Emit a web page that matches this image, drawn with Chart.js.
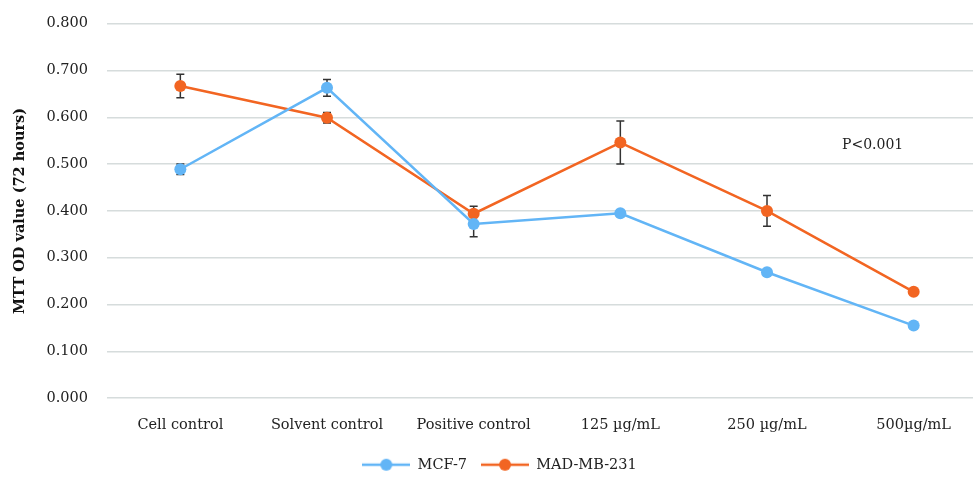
<!DOCTYPE html>
<html>
<head>
<meta charset="utf-8">
<script src="https://cdn.jsdelivr.net/npm/chart.js@4.4.0/dist/chart.umd.min.js"></script>
<style>
  html, body { margin: 0; padding: 0; background: #fff; overflow: hidden; }
  #wrap { width: 987px; height: 486px; margin-top: -4px; position: relative; }
</style>
</head>
<body>
<div id="wrap"><canvas id="mtt"></canvas></div>
<script>
// data block
const categories = ["Cell control", "Solvent control", "Positive control", "125 µg/mL", "250 µg/mL", "500µg/mL"];
const mcf7 = [0.489, 0.663, 0.372, 0.395, 0.269, 0.155];
const mcf7Err = [0.011, 0.018, 0.027, 0, 0.007, 0];
const mdamb = [0.667, 0.599, 0.394, 0.546, 0.400, 0.227];
const mdambErr = [0.025, 0.011, 0.016, 0.046, 0.033, 0];
const yTicks = [0, 0.1, 0.2, 0.3, 0.4, 0.5, 0.6, 0.7, 0.8];
const note = { x: 4.72, y: 0.540, text: "P<0.001" };

const FONT = "'DejaVu Serif', serif";
const BLUE = "#62b5f6";
const ORANGE = "#f26522";

// legend swatch: line with a dot
function swatch(color) {
  const c = document.createElement('canvas');
  c.width = 48; c.height = 14;
  const g = c.getContext('2d');
  g.strokeStyle = color; g.lineWidth = 2.5;
  g.beginPath(); g.moveTo(0, 7); g.lineTo(48, 7); g.stroke();
  g.fillStyle = color;
  g.beginPath(); g.arc(24, 7, 6, 0, Math.PI * 2); g.fill();
  return c;
}

// error bars + p-value text
const extras = {
  id: 'extras',
  beforeDatasetsDraw(chart) {
    const { ctx, scales: { x, y } } = chart;
    const errs = [mcf7Err, mdambErr];
    ctx.save();
    ctx.strokeStyle = "#333";
    ctx.lineWidth = 1.5;
    chart.data.datasets.forEach((ds, i) => {
      ds.data.forEach((v, j) => {
        const e = errs[i][j];
        if (!e) return;
        const px = x.getPixelForValue(j);
        const top = y.getPixelForValue(v + e);
        const bot = y.getPixelForValue(v - e);
        ctx.beginPath();
        ctx.moveTo(px, top); ctx.lineTo(px, bot);
        ctx.moveTo(px - 4, top); ctx.lineTo(px + 4, top);
        ctx.moveTo(px - 4, bot); ctx.lineTo(px + 4, bot);
        ctx.stroke();
      });
    });
    ctx.restore();
  },
  afterDraw(chart) {
    const { ctx, scales: { x, y } } = chart;
    ctx.save();
    ctx.font = "14px " + FONT;
    ctx.fillStyle = "#222";
    ctx.textAlign = "center";
    ctx.textBaseline = "middle";
    ctx.fillText(note.text, x.getPixelForValue(note.x), y.getPixelForValue(note.y));
    ctx.restore();
  }
};

const data = {
  labels: categories,
  datasets: [
    {
      label: "MCF-7",
      data: mcf7,
      borderColor: BLUE,
      backgroundColor: BLUE,
      borderWidth: 2.5,
      pointRadius: 6,
      pointHoverRadius: 6,
      pointBorderWidth: 0,
    },
    {
      label: "MAD-MB-231",
      data: mdamb,
      borderColor: ORANGE,
      backgroundColor: ORANGE,
      borderWidth: 2.5,
      pointRadius: 6,
      pointHoverRadius: 6,
      pointBorderWidth: 0,
    },
  ],
};

const config = {
  type: "line",
  data,
  options: {
    responsive: true,
    maintainAspectRatio: false,
    animation: false,
    layout: { autoPadding: false, padding: { top: 10, right: 0, left: 12, bottom: 0 } },
    scales: {
      x: {
        offset: true,
        grid: { display: false },
        border: { display: false },
        ticks: { color: "#222", padding: 10, maxRotation: 0, font: { family: FONT, size: 14.5 } },
      },
      y: {
        min: 0,
        max: 0.8,
        afterBuildTicks: s => { s.ticks = yTicks.map(v => ({ value: v })); },
        afterFit: s => { s.width = 95; },
        grid: { color: "#d6dcdc", lineWidth: 1.5, drawTicks: false },
        border: { display: false },
        ticks: {
          color: "#222",
          padding: 19,
          font: { family: FONT, size: 14.5 },
          callback: v => v.toFixed(3),
        },
        title: {
          display: true,
          text: "MTT OD value (72 hours)",
          color: "#111",
          padding: { top: 0, bottom: 0 },
          font: { family: FONT, size: 14.5, weight: "bold" },
        },
      },
    },
    plugins: {
      tooltip: { enabled: false },
      legend: {
        position: "bottom",
        labels: {
          color: "#222",
          font: { family: FONT, size: 14.5 },
          usePointStyle: true,
          pointStyleWidth: 48,
          padding: 14,
          generateLabels(chart) {
            const items = Chart.defaults.plugins.legend.labels.generateLabels(chart);
            items.forEach((it, i) => { it.pointStyle = swatch(chart.data.datasets[i].borderColor); });
            return items;
          },
        },
      },
    },
  },
  plugins: [extras],
};

const mttChart = new Chart(document.getElementById('mtt'), config);
</script>
</body>
</html>
